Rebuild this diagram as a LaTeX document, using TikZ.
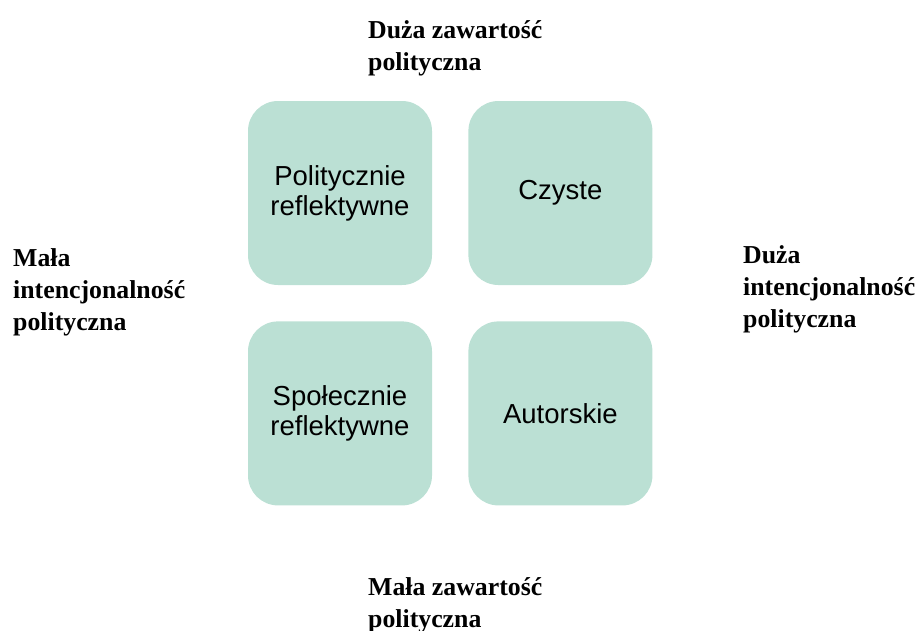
\documentclass[tikz,border=0pt]{standalone}
\usepackage{fontspec}
\setmainfont{Liberation Serif}
\newfontfamily\quadfont{Liberation Sans}
\usetikzlibrary{positioning}
\definecolor{mint}{HTML}{BBE0D4}
\tikzset{
    quad/.style={
        rectangle,
        fill=mint,
        rounded corners=30pt,
        minimum width=184pt,
        minimum height=184pt,
        inner sep=0pt,
        align=center,
        font=\quadfont\fontsize{27.5}{30}\selectfont
    },
    axislabel/.style={
        inner sep=0pt,
        anchor=west,
        align=left,
        font=\bfseries\fontsize{25.8}{32}\selectfont
    }
}

\begin{document}
\begin{tikzpicture}[x=1pt, y=-1pt, node distance=36pt]

    \useasboundingbox (0,0) rectangle (920,630);

    % Quadrants
    \node[quad] (polit) at (340,193) {Politycznie\\reflektywne};
    \node[quad, right=of polit] (czyste) {Czyste};
    \node[quad, below=of polit] (spol) {Społecznie\\reflektywne};
    \node[quad, right=of spol] (autor) {Autorskie};

    % Axis labels
    \node[axislabel] (top) at (368,48) {Duża zawartość\\polityczna};
    \node[axislabel] (bottom) at (368,605) {Mała zawartość\\polityczna};
    \node[axislabel] (left) at (13,292) {Mała\\intencjonalność\\polityczna};
    \node[axislabel] (right) at (743,289.5) {Duża\\intencjonalność\\polityczna};

\end{tikzpicture}
\end{document}
